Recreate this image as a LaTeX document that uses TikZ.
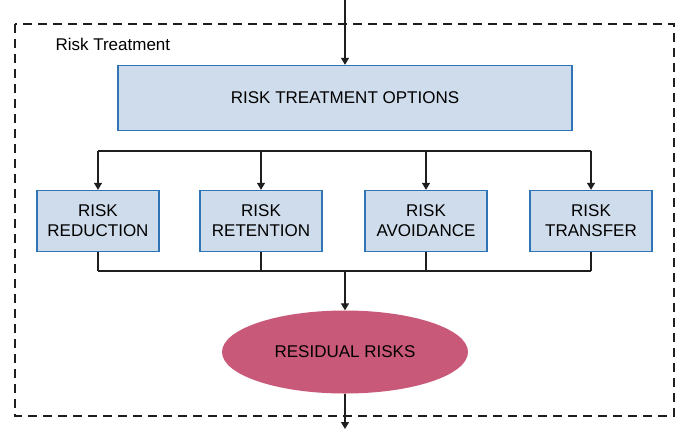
\documentclass[tikz,border=0pt]{standalone}
\usepackage{fontspec}
\setmainfont{Liberation Sans}
\usetikzlibrary{arrows.meta,shapes.geometric}
\definecolor{boxfill}{HTML}{CFDCEB}
\definecolor{boxline}{HTML}{2F75B5}
\definecolor{riskred}{HTML}{C95978}
\definecolor{wire}{HTML}{1E1E1E}
\tikzset{
  optbox/.style={draw=boxline, fill=boxfill, line width=1.4pt, minimum width=122pt,
    minimum height=61pt, align=center, text=black, inner sep=0pt,
    font=\fontsize{17}{20}\selectfont},
  wireline/.style={draw=wire, line width=1.3pt},
  wirearrow/.style={wireline, -{Triangle[width=8pt,length=7pt]}},
}
\begin{document}
\begin{tikzpicture}[x=1pt,y=-1pt]
  \useasboundingbox (0,0) rectangle (683,429);
  % dashed frame of the treatment stage
  \draw[wire, line width=1.3pt, dash pattern=on 9pt off 6pt] (15,24) rectangle (674,416);
  \node[anchor=west, font=\fontsize{17}{20}\selectfont] (title) at (52,44) {Risk Treatment};

  % main options box
  \node[optbox, minimum width=454pt, minimum height=65pt] (opts) at (345,98) {RISK TREATMENT OPTIONS};

  % four treatment choices
  \node[optbox] (red) at (98,221) {RISK\\REDUCTION};
  \node[optbox] (ret) at (261,221) {RISK\\RETENTION};
  \node[optbox] (avo) at (426,221) {RISK\\AVOIDANCE};
  \node[optbox] (tra) at (591,221) {RISK\\TRANSFER};

  % residual risks
  \node[ellipse, fill=riskred, minimum width=246pt, minimum height=83pt, inner sep=0pt,
        font=\fontsize{17}{20}\selectfont] (res) at (345,352) {RESIDUAL RISKS};

  % flow in and out
  \coordinate (in) at (345,0);
  \coordinate (out) at (345,429);
  \draw[wirearrow] (in) -- (opts.north);
  \draw[wirearrow] (res.south) -- (out);

  % upper distribution bus
  \coordinate (bustop) at (0,151);
  \draw[wireline] (red.north |- bustop) -- (tra.north |- bustop);
  \foreach \n in {red,ret,avo,tra}
    \draw[wirearrow] (\n.north |- bustop) -- (\n.north);

  % lower collection bus
  \coordinate (busbot) at (0,271);
  \draw[wireline] (red.south |- busbot) -- (tra.south |- busbot);
  \foreach \n in {red,ret,avo,tra}
    \draw[wireline] (\n.south) -- (\n.south |- busbot);
  \draw[wirearrow] (res.north |- busbot) -- (res.north);
\end{tikzpicture}
\end{document}
